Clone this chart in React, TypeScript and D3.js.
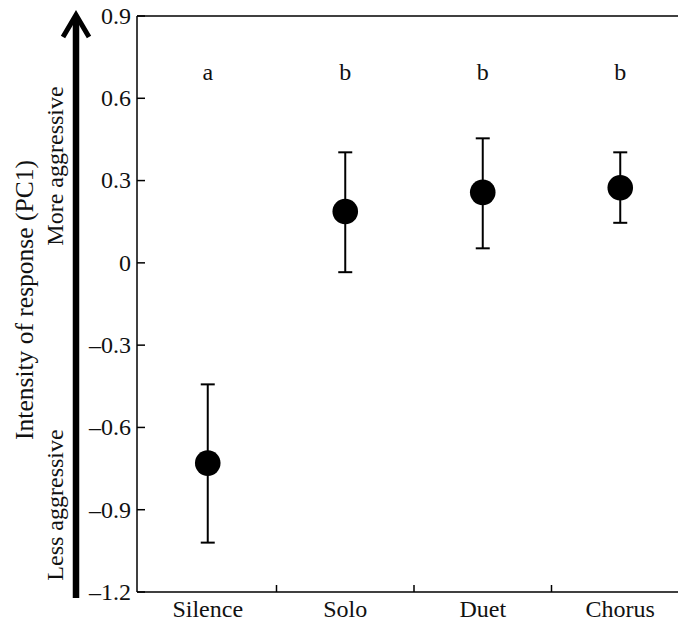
import React from "react";
import * as d3 from "d3";

const categories = ["Silence", "Solo", "Duet", "Chorus"];
const means = [-0.73, 0.187, 0.257, 0.274];
const upper = [-0.443, 0.403, 0.454, 0.403];
const lower = [-1.02, -0.034, 0.053, 0.146];
const letters = ["a", "b", "b", "b"];
const yTicks = [0.9, 0.6, 0.3, 0, -0.3, -0.6, -0.9, -1.2];

const W = 678;
const H = 621;
const FONT = "'Liberation Serif', 'Times New Roman', serif";
const FS = 24;

export default function App() {
  const left = 137;
  const top = 16;
  const bottom = 592;
  const x = d3.scaleBand<string>().domain(categories).range([139, 689]).paddingInner(0).paddingOuter(0);
  const y = d3.scaleLinear().domain([-1.2, 0.9]).range([bottom, top]);
  const bw = x.bandwidth();
  const cx = (c: string) => (x(c) as number) + bw / 2;
  const fmt = (v: number) => {
    if (v === 0) return "0";
    const s = Math.abs(v).toFixed(1);
    return v < 0 ? "\u2013" + s : s;
  };
  const boundaries = categories.slice(1).map((c) => x(c) as number);

  return (
    <svg width={W} height={H} style={{ position: "absolute", left: 0, top: 0, background: "#fff" }} fontFamily={FONT}>
      <rect x={0} y={0} width={W} height={H} fill="#fff" />
      {/* frame */}
      <line x1={left} x2={W} y1={top} y2={top} stroke="#000" strokeWidth={1.5} />
      <line x1={left} x2={W} y1={bottom} y2={bottom} stroke="#000" strokeWidth={1.5} />
      <line x1={left} x2={left} y1={top} y2={bottom} stroke="#000" strokeWidth={1.5} />
      {/* y ticks */}
      {yTicks.map((t) => (
        <g key={t}>
          <line x1={left} x2={left + 8} y1={y(t)} y2={y(t)} stroke="#000" strokeWidth={1.5} />
          <text x={left - 6} y={y(t)} dy="0.33em" textAnchor="end" fontSize={FS} fill="#111">
            {fmt(t)}
          </text>
        </g>
      ))}
      {/* x ticks */}
      {boundaries.map((b, i) => (
        <line key={i} x1={b} x2={b} y1={bottom} y2={bottom - 7} stroke="#000" strokeWidth={1.5} />
      ))}
      {categories.map((c) => (
        <text key={c} x={cx(c)} y={617} textAnchor="middle" fontSize={FS} fill="#111">
          {c}
        </text>
      ))}
      {/* letters */}
      {categories.map((c, i) => (
        <text key={"l" + c} x={cx(c)} y={80} textAnchor="middle" fontSize={FS} fill="#111">
          {letters[i]}
        </text>
      ))}
      {/* error bars and points */}
      {categories.map((c, i) => (
        <g key={"e" + c}>
          <line x1={cx(c)} x2={cx(c)} y1={y(upper[i])} y2={y(lower[i])} stroke="#000" strokeWidth={2} />
          <line x1={cx(c) - 7} x2={cx(c) + 7} y1={y(upper[i])} y2={y(upper[i])} stroke="#000" strokeWidth={2} />
          <line x1={cx(c) - 7} x2={cx(c) + 7} y1={y(lower[i])} y2={y(lower[i])} stroke="#000" strokeWidth={2} />
          <circle cx={cx(c)} cy={y(means[i])} r={12.8} fill="#000" />
        </g>
      ))}
      {/* arrow */}
      <line x1={76} x2={76} y1={598} y2={17} stroke="#000" strokeWidth={6.5} />
      <polyline points="63,37 76,15 89,37" fill="none" stroke="#000" strokeWidth={5} strokeLinejoin="miter" />
      {/* axis titles */}
      <text transform="translate(33,300) rotate(-90)" textAnchor="middle" fontSize={25.5} fill="#111">
        Intensity of response (PC1)
      </text>
      <text transform="translate(63,166) rotate(-90)" textAnchor="middle" fontSize={FS} fill="#111">
        More aggressive
      </text>
      <text transform="translate(63,505) rotate(-90)" textAnchor="middle" fontSize={FS} fill="#111">
        Less aggressive
      </text>
    </svg>
  );
}
